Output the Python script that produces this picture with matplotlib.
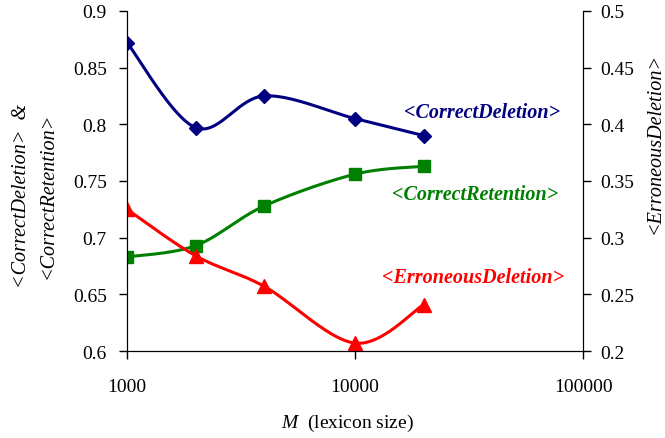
import numpy as np
import matplotlib
matplotlib.use("Agg")
import matplotlib.pyplot as plt

plt.rcParams['font.family'] = 'Liberation Serif'
plt.rcParams['mathtext.fontset'] = 'custom'
plt.rcParams['mathtext.it'] = 'Liberation Serif:italic'
plt.rcParams['mathtext.rm'] = 'Liberation Serif'

# ---- data ----
lexicon = [1000, 2000, 4000, 10000, 20000]
correct_deletion = [0.872, 0.797, 0.825, 0.805, 0.790]
correct_retention = [0.683, 0.693, 0.728, 0.756, 0.763]
erroneous_deletion = [0.325, 0.284, 0.257, 0.207, 0.241]


def smooth(xs, ys, n=40):
    """Excel-like smoothed line (Bezier through points), in log-x space."""
    P = np.column_stack([np.log10(xs), ys])
    P = np.vstack([P[0], P, P[-1]])
    t = np.linspace(0, 1, n)[:, None]
    out = []
    for i in range(1, len(P) - 2):
        p0, p1, p2, p3 = P[i - 1], P[i], P[i + 1], P[i + 2]
        c1 = p1 + (p2 - p0) / 6
        c2 = p2 - (p3 - p1) / 6
        seg = ((1 - t) ** 3) * p1 + 3 * ((1 - t) ** 2) * t * c1 + 3 * (1 - t) * t ** 2 * c2 + t ** 3 * p2
        out.append(seg)
    seg = np.vstack(out)
    return 10 ** seg[:, 0], seg[:, 1]


fig = plt.figure(figsize=(6.65, 4.39), dpi=100)
ax = fig.add_axes([0.191, 0.198, 0.686, 0.775])
ax2 = ax.twinx()

navy, green, red = '#000080', '#008000', '#FF0000'

sx, sy = smooth(lexicon, correct_deletion)
ax.plot(sx, sy, color=navy, lw=2.2)
ax.plot(lexicon, correct_deletion, 'D', color=navy, ms=7.5)

sx, sy = smooth(lexicon, correct_retention)
ax.plot(sx, sy, color=green, lw=2.2)
ax.plot(lexicon, correct_retention, 's', color=green, ms=9)

sx, sy = smooth(lexicon, erroneous_deletion)
ax2.plot(sx, sy, color=red, lw=2.2)
ax2.plot(lexicon, erroneous_deletion, '^', color=red, ms=10)

ax.set_xscale('log')
ax.set_xlim(1000, 100000)
ax.set_ylim(0.6, 0.9)
ax2.set_ylim(0.2, 0.5)
ax.set_xticks([1000, 10000, 100000])
ax.set_xticklabels(['1000', '10000', '100000'])
ax.xaxis.set_minor_locator(matplotlib.ticker.NullLocator())
ax.set_yticks([0.6, 0.65, 0.7, 0.75, 0.8, 0.85, 0.9])
ax.set_yticklabels(['0.6', '0.65', '0.7', '0.75', '0.8', '0.85', '0.9'])
ax2.set_yticks([0.2, 0.25, 0.3, 0.35, 0.4, 0.45, 0.5])
ax2.set_yticklabels(['0.2', '0.25', '0.3', '0.35', '0.4', '0.45', '0.5'])

for a in (ax, ax2):
    a.spines['top'].set_visible(False)
    a.tick_params(direction='out', length=5.5, width=1, labelsize=14)
ax.tick_params(axis='x', pad=14)
ax.tick_params(axis='y', pad=9)
ax2.tick_params(axis='y', pad=7)

# in-plot labels
lab = dict(transform=ax.transAxes, ha='center', va='center', fontsize=14.5,
           fontweight='bold', style='italic')
ax.text(0.778, 0.703, '<CorrectDeletion>', color=navy, **lab)
ax.text(0.763, 0.462, '<CorrectRetention>', color=green, **lab)
ax.text(0.759, 0.218, '<ErroneousDeletion>', color=red, **lab)

# axis titles
fig.text(0.033, 0.553, '<CorrectDeletion>  &', rotation=90, ha='center', va='center',
         fontsize=14.5, style='italic')
fig.text(0.072, 0.553, '<CorrectRetention>', rotation=90, ha='center', va='center',
         fontsize=14.5, style='italic')
fig.text(0.986, 0.674, '<ErroneousDeletion>', rotation=90, ha='center', va='center',
         fontsize=14.5, style='italic')
fig.text(0.523, 0.036, r'$\it{M}$  (lexicon size)', ha='center', va='center', fontsize=14)

fig.savefig('out.png', dpi=100)
